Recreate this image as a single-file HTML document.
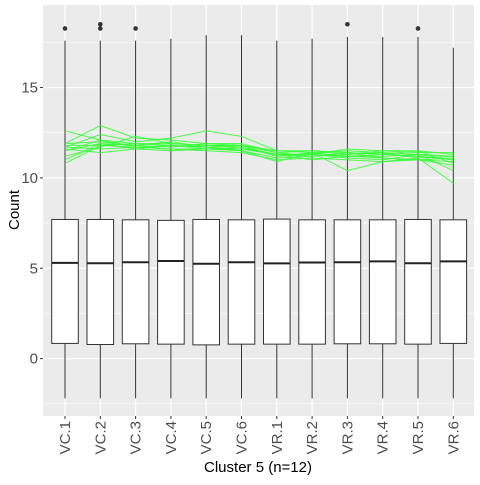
<!DOCTYPE html>
<html><head><meta charset="utf-8"><style>
body{margin:0;background:#fff}
svg text{font-family:"Liberation Sans",Arial,sans-serif}
</style></head><body>
<svg id="c" width="480" height="480" xmlns="http://www.w3.org/2000/svg"></svg>
<script>
const categories=["VC.1","VC.2","VC.3","VC.4","VC.5","VC.6","VR.1","VR.2","VR.3","VR.4","VR.5","VR.6"];
const lowWhisker=[-2.2,-2.2,-2.2,-2.2,-2.2,-2.2,-2.2,-2.2,-2.2,-2.2,-2.2,-2.2];
const q1=[0.84,0.78,0.82,0.8,0.76,0.8,0.8,0.8,0.82,0.82,0.8,0.84];
const medians=[5.3,5.28,5.33,5.4,5.25,5.33,5.27,5.32,5.33,5.38,5.28,5.38];
const q3=[7.7,7.7,7.68,7.65,7.7,7.68,7.72,7.68,7.68,7.68,7.7,7.68];
const highWhisker=[17.6,17.6,17.6,17.7,17.9,17.9,17.6,17.7,17.8,17.8,17.8,17.2];
const outliers=[[18.27],[18.27,18.5],[18.27],[],[],[],[],[],[18.5],[],[18.27],[]];
const seriesA=[12.6,12.1,11.9,11.8,11.7,11.6,11.3,11.3,11.2,11.1,11.0,10.9];
const seriesB=[11.9,12.9,12.2,12.1,11.9,11.8,11.5,11.4,11.5,11.4,11.3,11.2];
const seriesC=[11.7,12.4,12.0,12.2,12.6,12.3,11.5,11.5,11.3,11.5,11.4,11.4];
const seriesD=[11.5,11.9,11.6,11.8,11.6,11.5,10.9,11.4,10.4,10.9,11.1,9.7];
const seriesE=[11.2,11.7,12.3,11.9,11.8,11.7,11.3,11.0,11.2,11.2,11.3,10.4];
const seriesF=[10.8,11.8,11.7,11.6,11.5,11.4,11.0,11.1,11.0,10.9,11.0,10.7];
const seriesG=[11.0,11.9,11.8,12.0,11.7,11.8,11.4,11.2,11.4,11.1,11.0,11.1];
const seriesH=[11.6,11.4,11.6,11.5,11.6,11.7,11.2,11.4,11.2,11.3,11.2,11.0];
const seriesI=[11.8,11.8,11.9,11.9,11.8,11.8,11.2,11.3,11.6,11.5,11.5,11.3];
const seriesJ=[11.9,12.0,11.8,11.7,11.9,11.9,11.4,11.5,11.4,11.3,11.5,10.8];
const seriesK=[11.5,12.1,11.7,11.6,11.6,11.6,11.3,11.3,11.1,11.0,11.3,11.0];
const seriesL=[11.7,11.6,11.7,11.8,11.7,11.5,11.1,11.2,11.3,11.4,11.1,11.2];
const allSeries=[seriesA,seriesB,seriesC,seriesD,seriesE,seriesF,seriesG,seriesH,seriesI,seriesJ,seriesK,seriesL];
const majorTicks=[0,5,10,15];
const minorTicks=[-2.5,2.5,7.5,12.5,17.5];

const NS="http://www.w3.org/2000/svg";
const svg=document.getElementById('c');
const P={l:43,r:474,t:5,b:416};
const y=v=>358.6-18.07*v;
const x=i=>65+i*35.3;
function mk(t,a,parent){const e=document.createElementNS(NS,t);for(const k in a)e.setAttribute(k,a[k]);(parent||svg).appendChild(e);return e;}

const bg=mk('rect',{x:P.l,y:P.t,width:P.r-P.l,height:P.b-P.t,fill:'#EBEBEB'});


minorTicks.forEach(v=>{const l=mk('line',{x1:P.l,x2:P.r,y1:y(v),y2:y(v),stroke:'#fff','stroke-width':0.6});

});
majorTicks.forEach(v=>{const l=mk('line',{x1:P.l,x2:P.r,y1:y(v),y2:y(v),stroke:'#fff','stroke-width':1.2});


const tk=mk('line',{x1:P.l-3,x2:P.l,y1:y(v),y2:y(v),stroke:'#333','stroke-width':1});


const t=mk('text',{x:P.l-5,y:y(v)+5,'text-anchor':'end','font-size':15,fill:'#4D4D4D'});t.textContent=v;

});
categories.forEach((c,i)=>{const l=mk('line',{x1:x(i),x2:x(i),y1:P.t,y2:P.b,stroke:'#fff','stroke-width':1.2});

});

categories.forEach((c,i)=>{
 const g=mk('g',{});
 
 
 mk('line',{x1:x(i),x2:x(i),y1:y(highWhisker[i]),y2:y(q3[i]),stroke:'#333','stroke-width':1},g);
 mk('line',{x1:x(i),x2:x(i),y1:y(q1[i]),y2:y(lowWhisker[i]),stroke:'#333','stroke-width':1},g);
 mk('rect',{x:x(i)-13.3,y:y(q3[i]),width:26.6,height:y(q1[i])-y(q3[i]),fill:'#fff',stroke:'#333','stroke-width':1},g);
 mk('line',{x1:x(i)-13.3,x2:x(i)+13.3,y1:y(medians[i]),y2:y(medians[i]),stroke:'#222','stroke-width':2},g);
 outliers[i].forEach(o=>mk('circle',{cx:x(i),cy:y(o),r:2.3,fill:'#333'},g));
 const tk=mk('line',{x1:x(i),x2:x(i),y1:P.b,y2:P.b+3,stroke:'#333','stroke-width':1});
 
 
 const t=mk('text',{x:0,y:0,'text-anchor':'end','font-size':15,fill:'#4D4D4D',transform:`translate(${x(i)+5},${P.b+5}) rotate(-90)`});t.textContent=c;
 
 
});

allSeries.forEach((s,k)=>{
 const p=mk('polyline',{points:s.map((v,i)=>x(i)+','+y(v)).join(' '),fill:'none',stroke:'#33FF33','stroke-width':1,'stroke-opacity':0.9});
 
 
});

const yt=mk('text',{x:0,y:0,'text-anchor':'middle','font-size':15,fill:'#000',transform:'translate(19,210) rotate(-90)'});yt.textContent='Count';


const xt=mk('text',{x:258,y:472,'text-anchor':'middle','font-size':15,fill:'#000'});xt.textContent='Cluster 5 (n=12)';


</script>
</body></html>
